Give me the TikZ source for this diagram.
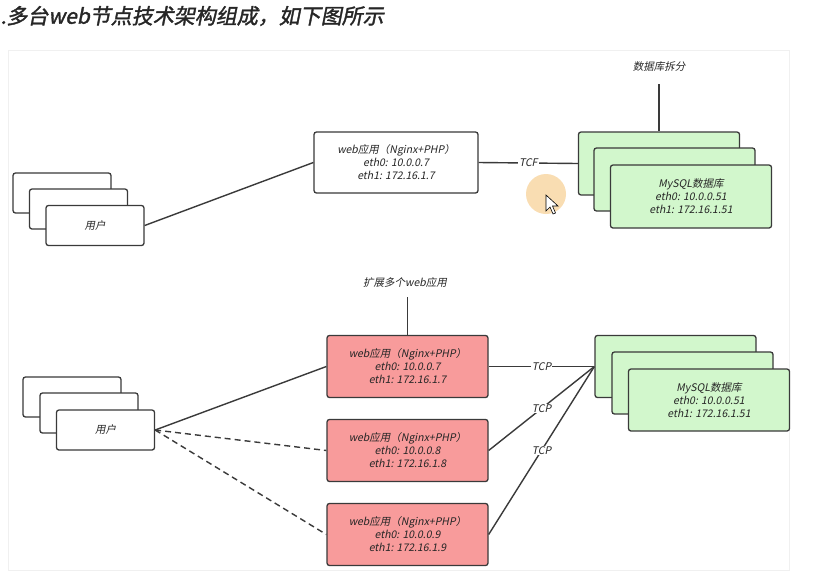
\documentclass[tikz,border=0pt]{standalone}
\usepackage{fontspec}
\setmainfont{Noto Sans CJK SC}[FakeSlant=0.2]
\newfontfamily\titlefont{Noto Sans CJK SC}[FakeSlant=0.2,FakeBold=1.6]
\definecolor{webred}{HTML}{F89B9B}
\definecolor{dbgreen}{HTML}{D2F7CC}
\definecolor{edgegray}{HTML}{3A3A3A}
\definecolor{clickring}{HTML}{F9DDB2}
\tikzset{
    box/.style={draw=edgegray,line width=1.3pt,rounded corners=2.5pt,align=center,inner sep=0pt,
        text=black!85,font=\fontsize{10.5}{13}\selectfont},
    userbox/.style={box,fill=white,minimum width=98pt,minimum height=40pt},
    webbox/.style={box,fill=webred,minimum width=161pt,minimum height=62pt},
    dbbox/.style={box,fill=dbgreen,minimum width=161pt,minimum height=63pt},
    link/.style={draw=edgegray,line width=1.4pt},
    tag/.style={fill=white,inner sep=1pt,text=black!85,font=\fontsize{10.5}{13}\selectfont},
}
\begin{document}
\begin{tikzpicture}[x=1pt,y=-1pt]
    \useasboundingbox (0,0) rectangle (816,574);
    %% title and panel
    \node[anchor=west,text=black!85,font=\titlefont\fontsize{21}{21}\selectfont] (title) at (-3,16) {.多台web节点技术架构组成，如下图所示};
    \draw[draw=black!6,fill=white,line width=1pt] (8,50) rectangle (789,570);

    %% top: one web node
    \node[userbox] (u1) at (62,193) {};
    \node[userbox] (u2) at (78.5,209) {};
    \node[userbox] (u3) at (95,225.5) {用户};
    \node[webbox,fill=white,minimum width=164pt,minimum height=61pt] (web) at (396,162.5) {web应用（Nginx+PHP）\\eth0: 10.0.0.7\\eth1: 172.16.1.7};
    \node[dbbox] (db1) at (659,163.5) {};
    \node[dbbox] (db2) at (674.5,179.5) {};
    \node[dbbox] (db3) at (691,196.5) {MySQL数据库\\eth0: 10.0.0.51\\eth1: 172.16.1.51};
    \node[tag] (splitlbl) at (659,67) {数据库拆分};
    \coordinate (splittop) at (659,84);
    \draw[link] (u3.east) -- (web.west);
    \draw[link] (web.east) -- node[tag] (tcf) {TCF} (db1.west);
    \draw[link] (splittop) -- (db1.north);
    %% click mark
    \fill[clickring] (546,194) circle (20);
    \draw[fill=white,line width=0.6pt] (546,195) -- (546,211) -- (550,207) -- (553,214) -- (555.5,213) -- (552.5,206) -- (558,206) -- cycle;

    %% bottom: several web nodes
    \node[userbox] (v1) at (72,397) {};
    \node[userbox] (v2) at (89,413) {};
    \node[userbox] (v3) at (105.5,430) {用户};
    \node[webbox] (wa) at (407.5,366.5) {web应用（Nginx+PHP）\\eth0: 10.0.0.7\\eth1: 172.16.1.7};
    \node[webbox] (wb) at (407.5,450.5) {web应用（Nginx+PHP）\\eth0: 10.0.0.8\\eth1: 172.16.1.8};
    \node[webbox] (wc) at (407.5,534.5) {web应用（Nginx+PHP）\\eth0: 10.0.0.9\\eth1: 172.16.1.9};
    \node[dbbox,minimum height=62pt] (ea) at (675.5,366.5) {};
    \node[dbbox,minimum height=62pt] (eb) at (692.5,383) {};
    \node[dbbox,minimum height=62pt] (ec) at (709,400) {MySQL数据库\\eth0: 10.0.0.51\\eth1: 172.16.1.51};
    \node[tag] (scalelbl) at (405,282) {扩展多个web应用};
    \coordinate (scaletop) at (407.5,297);
    \draw[link] (scaletop) -- (wa.north);
    \draw[link] (v3.east) -- (wa.west);
    \draw[link,dash pattern=on 6pt off 4pt] (v3.east) -- (wb.west);
    \draw[link,dash pattern=on 6pt off 4pt] (v3.east) -- (wc.west);
    \draw[link] (wa.east) -- node[tag] (tcpa) {TCP} (ea.west);
    \draw[link] (wb.east) -- node[tag] (tcpb) {TCP} (ea.west);
    \draw[link] (wc.east) -- node[tag] (tcpc) {TCP} (ea.west);
\end{tikzpicture}
\end{document}
